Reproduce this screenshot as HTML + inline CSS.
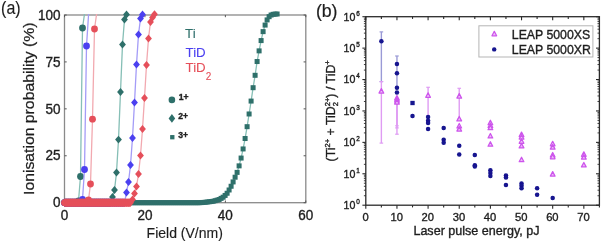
<!DOCTYPE html>
<html><head><meta charset="utf-8"><style>
html,body{margin:0;padding:0;background:#fff;}
svg{display:block;}
text{font-family:"Liberation Sans", sans-serif;stroke:#1e1e1e;stroke-width:0.35px;}
</style></head><body>
<svg width="602" height="242" viewBox="0 0 602 242">
<defs><filter id="bl" x="-5%" y="-5%" width="110%" height="110%"><feGaussianBlur stdDeviation="0.4"/></filter><clipPath id="clipA"><rect x="55" y="8" width="260" height="202"/></clipPath></defs>
<rect width="602" height="242" fill="#fff"/>
<g filter="url(#bl)">
<g fill="#1e1e1e"><rect x="64.5" y="15.0" width="241.30" height="187.70" fill="none" stroke="#8a8a8a" stroke-width="1.3"/><line x1="64.5" y1="202.70" x2="66.70" y2="202.70" stroke="#555" stroke-width="1"/><line x1="305.8" y1="202.70" x2="303.60" y2="202.70" stroke="#555" stroke-width="1"/><text transform="translate(60.6 207.40) scale(1 1.07)" text-anchor="end" font-size="13.5">0</text><line x1="64.5" y1="155.77" x2="66.70" y2="155.77" stroke="#555" stroke-width="1"/><line x1="305.8" y1="155.77" x2="303.60" y2="155.77" stroke="#555" stroke-width="1"/><text transform="translate(60.6 160.47) scale(1 1.07)" text-anchor="end" font-size="13.5">25</text><line x1="64.5" y1="108.85" x2="66.70" y2="108.85" stroke="#555" stroke-width="1"/><line x1="305.8" y1="108.85" x2="303.60" y2="108.85" stroke="#555" stroke-width="1"/><text transform="translate(60.6 113.55) scale(1 1.07)" text-anchor="end" font-size="13.5">50</text><line x1="64.5" y1="61.92" x2="66.70" y2="61.92" stroke="#555" stroke-width="1"/><line x1="305.8" y1="61.92" x2="303.60" y2="61.92" stroke="#555" stroke-width="1"/><text transform="translate(60.6 66.62) scale(1 1.07)" text-anchor="end" font-size="13.5">75</text><line x1="64.5" y1="15.00" x2="66.70" y2="15.00" stroke="#555" stroke-width="1"/><line x1="305.8" y1="15.00" x2="303.60" y2="15.00" stroke="#555" stroke-width="1"/><text transform="translate(60.6 19.70) scale(1 1.07)" text-anchor="end" font-size="13.5">100</text><line x1="64.50" y1="202.7" x2="64.50" y2="200.50" stroke="#555" stroke-width="1"/><line x1="64.50" y1="15.0" x2="64.50" y2="17.20" stroke="#555" stroke-width="1"/><text transform="translate(64.50 219.7) scale(1 1.07)" text-anchor="middle" font-size="13.5">0</text><line x1="144.93" y1="202.7" x2="144.93" y2="200.50" stroke="#555" stroke-width="1"/><line x1="144.93" y1="15.0" x2="144.93" y2="17.20" stroke="#555" stroke-width="1"/><text transform="translate(144.93 219.7) scale(1 1.07)" text-anchor="middle" font-size="13.5">20</text><line x1="225.37" y1="202.7" x2="225.37" y2="200.50" stroke="#555" stroke-width="1"/><line x1="225.37" y1="15.0" x2="225.37" y2="17.20" stroke="#555" stroke-width="1"/><text transform="translate(225.37 219.7) scale(1 1.07)" text-anchor="middle" font-size="13.5">40</text><line x1="305.80" y1="202.7" x2="305.80" y2="200.50" stroke="#555" stroke-width="1"/><line x1="305.80" y1="15.0" x2="305.80" y2="17.20" stroke="#555" stroke-width="1"/><text transform="translate(305.80 219.7) scale(1 1.07)" text-anchor="middle" font-size="13.5">60</text></g>
<g clip-path="url(#clipA)"><path d="M65.10 202.70 L67.10 202.70 L69.10 202.70 L71.10 202.70 L73.10 202.70 L75.10 202.70 L77.10 202.70 L79.10 202.70 L81.10 202.70 L83.10 202.70 L85.10 202.70 L87.10 202.70 L89.10 202.70 L91.10 202.70 L93.10 202.70 L95.10 202.70 L97.10 202.70 L99.10 202.70 L101.10 202.70 L103.10 202.70 L105.10 202.70 L107.10 202.70 L109.10 202.70 L111.10 202.70 L113.10 202.70 L115.10 202.70 L117.10 202.70 L119.10 202.70 L121.10 202.70 L123.10 202.70 L125.10 202.70 L127.10 202.70 L129.10 202.70 L131.10 202.70 L133.10 202.70 L135.10 202.70 L137.10 202.70 L139.10 202.70 L141.10 202.70 L143.10 202.70 L145.10 202.70 L147.10 202.70 L149.10 202.70 L151.10 202.70 L153.10 202.70 L155.10 202.70 L157.10 202.70 L159.10 202.70 L161.10 202.70 L163.10 202.70 L165.10 202.70 L167.10 202.70 L169.10 202.70 L171.10 202.70 L173.10 202.70 L175.10 202.70 L177.10 202.70 L179.10 202.70 L181.10 202.70 L183.10 202.70 L185.10 202.70 L187.10 202.70 L189.10 202.70 L191.10 202.70 L193.10 202.70 L195.10 202.70 L197.10 202.70 L199.10 202.70 L201.10 202.61 L203.10 202.45 L205.10 202.29 L207.10 202.04 L209.10 201.79 L211.10 201.54 L213.10 201.27 L215.10 200.71 L217.10 200.14 L219.10 199.54 L221.10 198.39 L223.10 197.21 L225.10 195.44 L227.10 193.25 L229.10 189.99 L231.10 186.26 L233.10 181.93 L235.10 177.21 L237.10 172.40 L239.10 165.85 L241.10 158.06 L243.10 148.94 L245.10 138.51 L247.10 126.68 L249.10 113.98 L251.10 101.07 L253.10 87.69 L255.10 75.31 L257.10 61.53 L259.10 50.87 L261.10 40.57 L263.10 31.63 L265.10 25.07 L267.10 19.92 L269.10 16.68 L271.10 15.04 L273.10 14.32 L275.10 14.10 L277.10 14.00" fill="none" stroke="#86bfb6" stroke-width="1.3"/><rect x="62.60" y="200.20" width="5.0" height="5.0" fill="#2f6f6b"/><rect x="64.60" y="200.20" width="5.0" height="5.0" fill="#2f6f6b"/><rect x="66.60" y="200.20" width="5.0" height="5.0" fill="#2f6f6b"/><rect x="68.60" y="200.20" width="5.0" height="5.0" fill="#2f6f6b"/><rect x="70.60" y="200.20" width="5.0" height="5.0" fill="#2f6f6b"/><rect x="72.60" y="200.20" width="5.0" height="5.0" fill="#2f6f6b"/><rect x="74.60" y="200.20" width="5.0" height="5.0" fill="#2f6f6b"/><rect x="76.60" y="200.20" width="5.0" height="5.0" fill="#2f6f6b"/><rect x="78.60" y="200.20" width="5.0" height="5.0" fill="#2f6f6b"/><rect x="80.60" y="200.20" width="5.0" height="5.0" fill="#2f6f6b"/><rect x="82.60" y="200.20" width="5.0" height="5.0" fill="#2f6f6b"/><rect x="84.60" y="200.20" width="5.0" height="5.0" fill="#2f6f6b"/><rect x="86.60" y="200.20" width="5.0" height="5.0" fill="#2f6f6b"/><rect x="88.60" y="200.20" width="5.0" height="5.0" fill="#2f6f6b"/><rect x="90.60" y="200.20" width="5.0" height="5.0" fill="#2f6f6b"/><rect x="92.60" y="200.20" width="5.0" height="5.0" fill="#2f6f6b"/><rect x="94.60" y="200.20" width="5.0" height="5.0" fill="#2f6f6b"/><rect x="96.60" y="200.20" width="5.0" height="5.0" fill="#2f6f6b"/><rect x="98.60" y="200.20" width="5.0" height="5.0" fill="#2f6f6b"/><rect x="100.60" y="200.20" width="5.0" height="5.0" fill="#2f6f6b"/><rect x="102.60" y="200.20" width="5.0" height="5.0" fill="#2f6f6b"/><rect x="104.60" y="200.20" width="5.0" height="5.0" fill="#2f6f6b"/><rect x="106.60" y="200.20" width="5.0" height="5.0" fill="#2f6f6b"/><rect x="108.60" y="200.20" width="5.0" height="5.0" fill="#2f6f6b"/><rect x="110.60" y="200.20" width="5.0" height="5.0" fill="#2f6f6b"/><rect x="112.60" y="200.20" width="5.0" height="5.0" fill="#2f6f6b"/><rect x="114.60" y="200.20" width="5.0" height="5.0" fill="#2f6f6b"/><rect x="116.60" y="200.20" width="5.0" height="5.0" fill="#2f6f6b"/><rect x="118.60" y="200.20" width="5.0" height="5.0" fill="#2f6f6b"/><rect x="120.60" y="200.20" width="5.0" height="5.0" fill="#2f6f6b"/><rect x="122.60" y="200.20" width="5.0" height="5.0" fill="#2f6f6b"/><rect x="124.60" y="200.20" width="5.0" height="5.0" fill="#2f6f6b"/><rect x="126.60" y="200.20" width="5.0" height="5.0" fill="#2f6f6b"/><rect x="128.60" y="200.20" width="5.0" height="5.0" fill="#2f6f6b"/><rect x="130.60" y="200.20" width="5.0" height="5.0" fill="#2f6f6b"/><rect x="132.60" y="200.20" width="5.0" height="5.0" fill="#2f6f6b"/><rect x="134.60" y="200.20" width="5.0" height="5.0" fill="#2f6f6b"/><rect x="136.60" y="200.20" width="5.0" height="5.0" fill="#2f6f6b"/><rect x="138.60" y="200.20" width="5.0" height="5.0" fill="#2f6f6b"/><rect x="140.60" y="200.20" width="5.0" height="5.0" fill="#2f6f6b"/><rect x="142.60" y="200.20" width="5.0" height="5.0" fill="#2f6f6b"/><rect x="144.60" y="200.20" width="5.0" height="5.0" fill="#2f6f6b"/><rect x="146.60" y="200.20" width="5.0" height="5.0" fill="#2f6f6b"/><rect x="148.60" y="200.20" width="5.0" height="5.0" fill="#2f6f6b"/><rect x="150.60" y="200.20" width="5.0" height="5.0" fill="#2f6f6b"/><rect x="152.60" y="200.20" width="5.0" height="5.0" fill="#2f6f6b"/><rect x="154.60" y="200.20" width="5.0" height="5.0" fill="#2f6f6b"/><rect x="156.60" y="200.20" width="5.0" height="5.0" fill="#2f6f6b"/><rect x="158.60" y="200.20" width="5.0" height="5.0" fill="#2f6f6b"/><rect x="160.60" y="200.20" width="5.0" height="5.0" fill="#2f6f6b"/><rect x="162.60" y="200.20" width="5.0" height="5.0" fill="#2f6f6b"/><rect x="164.60" y="200.20" width="5.0" height="5.0" fill="#2f6f6b"/><rect x="166.60" y="200.20" width="5.0" height="5.0" fill="#2f6f6b"/><rect x="168.60" y="200.20" width="5.0" height="5.0" fill="#2f6f6b"/><rect x="170.60" y="200.20" width="5.0" height="5.0" fill="#2f6f6b"/><rect x="172.60" y="200.20" width="5.0" height="5.0" fill="#2f6f6b"/><rect x="174.60" y="200.20" width="5.0" height="5.0" fill="#2f6f6b"/><rect x="176.60" y="200.20" width="5.0" height="5.0" fill="#2f6f6b"/><rect x="178.60" y="200.20" width="5.0" height="5.0" fill="#2f6f6b"/><rect x="180.60" y="200.20" width="5.0" height="5.0" fill="#2f6f6b"/><rect x="182.60" y="200.20" width="5.0" height="5.0" fill="#2f6f6b"/><rect x="184.60" y="200.20" width="5.0" height="5.0" fill="#2f6f6b"/><rect x="186.60" y="200.20" width="5.0" height="5.0" fill="#2f6f6b"/><rect x="188.60" y="200.20" width="5.0" height="5.0" fill="#2f6f6b"/><rect x="190.60" y="200.20" width="5.0" height="5.0" fill="#2f6f6b"/><rect x="192.60" y="200.20" width="5.0" height="5.0" fill="#2f6f6b"/><rect x="194.60" y="200.20" width="5.0" height="5.0" fill="#2f6f6b"/><rect x="196.60" y="200.20" width="5.0" height="5.0" fill="#2f6f6b"/><rect x="198.60" y="200.11" width="5.0" height="5.0" fill="#2f6f6b"/><rect x="200.60" y="199.95" width="5.0" height="5.0" fill="#2f6f6b"/><rect x="202.60" y="199.79" width="5.0" height="5.0" fill="#2f6f6b"/><rect x="204.60" y="199.54" width="5.0" height="5.0" fill="#2f6f6b"/><rect x="206.60" y="199.29" width="5.0" height="5.0" fill="#2f6f6b"/><rect x="208.60" y="199.04" width="5.0" height="5.0" fill="#2f6f6b"/><rect x="210.60" y="198.77" width="5.0" height="5.0" fill="#2f6f6b"/><rect x="212.60" y="198.21" width="5.0" height="5.0" fill="#2f6f6b"/><rect x="214.60" y="197.64" width="5.0" height="5.0" fill="#2f6f6b"/><rect x="216.60" y="197.04" width="5.0" height="5.0" fill="#2f6f6b"/><rect x="218.60" y="195.89" width="5.0" height="5.0" fill="#2f6f6b"/><rect x="220.60" y="194.71" width="5.0" height="5.0" fill="#2f6f6b"/><rect x="222.60" y="192.94" width="5.0" height="5.0" fill="#2f6f6b"/><rect x="224.60" y="190.75" width="5.0" height="5.0" fill="#2f6f6b"/><rect x="226.60" y="187.49" width="5.0" height="5.0" fill="#2f6f6b"/><rect x="228.60" y="183.76" width="5.0" height="5.0" fill="#2f6f6b"/><rect x="230.60" y="179.43" width="5.0" height="5.0" fill="#2f6f6b"/><rect x="232.60" y="174.71" width="5.0" height="5.0" fill="#2f6f6b"/><rect x="234.60" y="169.90" width="5.0" height="5.0" fill="#2f6f6b"/><rect x="236.60" y="163.35" width="5.0" height="5.0" fill="#2f6f6b"/><rect x="238.60" y="155.56" width="5.0" height="5.0" fill="#2f6f6b"/><rect x="240.60" y="146.44" width="5.0" height="5.0" fill="#2f6f6b"/><rect x="242.60" y="136.01" width="5.0" height="5.0" fill="#2f6f6b"/><rect x="244.60" y="124.18" width="5.0" height="5.0" fill="#2f6f6b"/><rect x="246.60" y="111.48" width="5.0" height="5.0" fill="#2f6f6b"/><rect x="248.60" y="98.57" width="5.0" height="5.0" fill="#2f6f6b"/><rect x="250.60" y="85.19" width="5.0" height="5.0" fill="#2f6f6b"/><rect x="252.60" y="72.81" width="5.0" height="5.0" fill="#2f6f6b"/><rect x="254.60" y="59.03" width="5.0" height="5.0" fill="#2f6f6b"/><rect x="256.60" y="48.37" width="5.0" height="5.0" fill="#2f6f6b"/><rect x="258.60" y="38.07" width="5.0" height="5.0" fill="#2f6f6b"/><rect x="260.60" y="29.13" width="5.0" height="5.0" fill="#2f6f6b"/><rect x="262.60" y="22.57" width="5.0" height="5.0" fill="#2f6f6b"/><rect x="264.60" y="17.42" width="5.0" height="5.0" fill="#2f6f6b"/><rect x="266.60" y="14.18" width="5.0" height="5.0" fill="#2f6f6b"/><rect x="268.60" y="12.54" width="5.0" height="5.0" fill="#2f6f6b"/><rect x="270.60" y="11.82" width="5.0" height="5.0" fill="#2f6f6b"/><rect x="272.60" y="11.60" width="5.0" height="5.0" fill="#2f6f6b"/><rect x="274.60" y="11.50" width="5.0" height="5.0" fill="#2f6f6b"/><path d="M64.50 202.70 L66.50 202.70 L68.50 202.70 L70.50 202.70 L72.50 202.70 L74.50 202.70 L76.50 202.70 L78.50 201.00 L80.50 176.50 L82.50 28.00 L84.50 14.00" fill="none" stroke="#86bfb6" stroke-width="1.3"/><rect x="64.50" y="199.30" width="12.00" height="6.8" fill="#2f6f6b"/><circle cx="64.50" cy="202.70" r="3.4" fill="#2f6f6b"/><circle cx="66.50" cy="202.70" r="3.4" fill="#2f6f6b"/><circle cx="68.50" cy="202.70" r="3.4" fill="#2f6f6b"/><circle cx="70.50" cy="202.70" r="3.4" fill="#2f6f6b"/><circle cx="72.50" cy="202.70" r="3.4" fill="#2f6f6b"/><circle cx="74.50" cy="202.70" r="3.4" fill="#2f6f6b"/><circle cx="76.50" cy="202.70" r="3.4" fill="#2f6f6b"/><circle cx="78.50" cy="201.00" r="3.4" fill="#2f6f6b"/><circle cx="80.50" cy="176.50" r="3.4" fill="#2f6f6b"/><circle cx="82.50" cy="28.00" r="3.4" fill="#2f6f6b"/><path d="M64.50 202.70 L66.50 202.70 L68.50 202.70 L70.50 202.70 L72.50 202.70 L74.50 202.70 L76.50 202.70 L78.50 202.70 L80.50 202.70 L82.50 202.70 L84.50 202.70 L86.50 202.70 L88.50 202.70 L90.50 202.70 L92.50 202.70 L94.50 202.70 L96.50 202.70 L98.50 202.70 L100.50 202.70 L102.50 202.70 L104.50 202.70 L106.50 202.70 L108.50 202.70 L110.50 202.70 L112.50 197.00 L114.50 190.00 L116.50 172.50 L118.50 139.60 L120.50 92.00 L122.50 44.50 L124.50 19.50 L126.50 14.50" fill="none" stroke="#86bfb6" stroke-width="1.3"/><rect x="64.50" y="198.75" width="46.00" height="7.9" fill="#2f6f6b"/><path d="M64.50 198.75L67.90 202.70L64.50 206.65L61.10 202.70Z" fill="#2f6f6b"/><path d="M66.50 198.75L69.90 202.70L66.50 206.65L63.10 202.70Z" fill="#2f6f6b"/><path d="M68.50 198.75L71.90 202.70L68.50 206.65L65.10 202.70Z" fill="#2f6f6b"/><path d="M70.50 198.75L73.90 202.70L70.50 206.65L67.10 202.70Z" fill="#2f6f6b"/><path d="M72.50 198.75L75.90 202.70L72.50 206.65L69.10 202.70Z" fill="#2f6f6b"/><path d="M74.50 198.75L77.90 202.70L74.50 206.65L71.10 202.70Z" fill="#2f6f6b"/><path d="M76.50 198.75L79.90 202.70L76.50 206.65L73.10 202.70Z" fill="#2f6f6b"/><path d="M78.50 198.75L81.90 202.70L78.50 206.65L75.10 202.70Z" fill="#2f6f6b"/><path d="M80.50 198.75L83.90 202.70L80.50 206.65L77.10 202.70Z" fill="#2f6f6b"/><path d="M82.50 198.75L85.90 202.70L82.50 206.65L79.10 202.70Z" fill="#2f6f6b"/><path d="M84.50 198.75L87.90 202.70L84.50 206.65L81.10 202.70Z" fill="#2f6f6b"/><path d="M86.50 198.75L89.90 202.70L86.50 206.65L83.10 202.70Z" fill="#2f6f6b"/><path d="M88.50 198.75L91.90 202.70L88.50 206.65L85.10 202.70Z" fill="#2f6f6b"/><path d="M90.50 198.75L93.90 202.70L90.50 206.65L87.10 202.70Z" fill="#2f6f6b"/><path d="M92.50 198.75L95.90 202.70L92.50 206.65L89.10 202.70Z" fill="#2f6f6b"/><path d="M94.50 198.75L97.90 202.70L94.50 206.65L91.10 202.70Z" fill="#2f6f6b"/><path d="M96.50 198.75L99.90 202.70L96.50 206.65L93.10 202.70Z" fill="#2f6f6b"/><path d="M98.50 198.75L101.90 202.70L98.50 206.65L95.10 202.70Z" fill="#2f6f6b"/><path d="M100.50 198.75L103.90 202.70L100.50 206.65L97.10 202.70Z" fill="#2f6f6b"/><path d="M102.50 198.75L105.90 202.70L102.50 206.65L99.10 202.70Z" fill="#2f6f6b"/><path d="M104.50 198.75L107.90 202.70L104.50 206.65L101.10 202.70Z" fill="#2f6f6b"/><path d="M106.50 198.75L109.90 202.70L106.50 206.65L103.10 202.70Z" fill="#2f6f6b"/><path d="M108.50 198.75L111.90 202.70L108.50 206.65L105.10 202.70Z" fill="#2f6f6b"/><path d="M110.50 198.75L113.90 202.70L110.50 206.65L107.10 202.70Z" fill="#2f6f6b"/><path d="M112.50 193.05L115.90 197.00L112.50 200.95L109.10 197.00Z" fill="#2f6f6b"/><path d="M114.50 186.05L117.90 190.00L114.50 193.95L111.10 190.00Z" fill="#2f6f6b"/><path d="M116.50 168.55L119.90 172.50L116.50 176.45L113.10 172.50Z" fill="#2f6f6b"/><path d="M118.50 135.65L121.90 139.60L118.50 143.55L115.10 139.60Z" fill="#2f6f6b"/><path d="M120.50 88.05L123.90 92.00L120.50 95.95L117.10 92.00Z" fill="#2f6f6b"/><path d="M122.50 40.55L125.90 44.50L122.50 48.45L119.10 44.50Z" fill="#2f6f6b"/><path d="M124.50 15.55L127.90 19.50L124.50 23.45L121.10 19.50Z" fill="#2f6f6b"/><path d="M126.50 10.55L129.90 14.50L126.50 18.45L123.10 14.50Z" fill="#2f6f6b"/><path d="M64.50 202.70 L66.50 202.70 L68.50 202.70 L70.50 202.70 L72.50 202.70 L74.50 202.70 L76.50 202.70 L78.50 202.70 L80.50 202.70 L82.50 199.50 L84.50 169.50 L86.50 46.00 L88.60 14.00" fill="none" stroke="#a49cf7" stroke-width="1.3"/><rect x="64.50" y="199.30" width="16.00" height="6.8" fill="#4b3ff0"/><circle cx="64.50" cy="202.70" r="3.4" fill="#4b3ff0"/><circle cx="66.50" cy="202.70" r="3.4" fill="#4b3ff0"/><circle cx="68.50" cy="202.70" r="3.4" fill="#4b3ff0"/><circle cx="70.50" cy="202.70" r="3.4" fill="#4b3ff0"/><circle cx="72.50" cy="202.70" r="3.4" fill="#4b3ff0"/><circle cx="74.50" cy="202.70" r="3.4" fill="#4b3ff0"/><circle cx="76.50" cy="202.70" r="3.4" fill="#4b3ff0"/><circle cx="78.50" cy="202.70" r="3.4" fill="#4b3ff0"/><circle cx="80.50" cy="202.70" r="3.4" fill="#4b3ff0"/><circle cx="82.50" cy="199.50" r="3.4" fill="#4b3ff0"/><circle cx="84.50" cy="169.50" r="3.4" fill="#4b3ff0"/><circle cx="86.50" cy="46.00" r="3.4" fill="#4b3ff0"/><path d="M64.50 202.70 L66.50 202.70 L68.50 202.70 L70.50 202.70 L72.50 202.70 L74.50 202.70 L76.50 202.70 L78.50 202.70 L80.50 202.70 L82.50 202.70 L84.50 202.70 L86.50 202.70 L88.50 202.70 L90.50 202.70 L92.50 202.70 L94.50 202.70 L96.50 202.70 L98.50 202.70 L100.50 202.70 L102.50 202.70 L104.50 202.70 L106.50 202.70 L108.50 202.70 L110.50 202.70 L112.50 202.70 L114.50 202.70 L116.50 202.70 L118.50 202.70 L120.50 202.70 L122.50 202.70 L124.50 202.70 L126.50 192.50 L128.50 182.00 L130.50 165.00 L132.50 138.00 L134.50 102.50 L136.50 64.50 L138.50 34.50 L140.50 18.50 L142.50 14.50" fill="none" stroke="#a49cf7" stroke-width="1.3"/><rect x="64.50" y="198.75" width="60.00" height="7.9" fill="#4b3ff0"/><path d="M64.50 198.75L67.90 202.70L64.50 206.65L61.10 202.70Z" fill="#4b3ff0"/><path d="M66.50 198.75L69.90 202.70L66.50 206.65L63.10 202.70Z" fill="#4b3ff0"/><path d="M68.50 198.75L71.90 202.70L68.50 206.65L65.10 202.70Z" fill="#4b3ff0"/><path d="M70.50 198.75L73.90 202.70L70.50 206.65L67.10 202.70Z" fill="#4b3ff0"/><path d="M72.50 198.75L75.90 202.70L72.50 206.65L69.10 202.70Z" fill="#4b3ff0"/><path d="M74.50 198.75L77.90 202.70L74.50 206.65L71.10 202.70Z" fill="#4b3ff0"/><path d="M76.50 198.75L79.90 202.70L76.50 206.65L73.10 202.70Z" fill="#4b3ff0"/><path d="M78.50 198.75L81.90 202.70L78.50 206.65L75.10 202.70Z" fill="#4b3ff0"/><path d="M80.50 198.75L83.90 202.70L80.50 206.65L77.10 202.70Z" fill="#4b3ff0"/><path d="M82.50 198.75L85.90 202.70L82.50 206.65L79.10 202.70Z" fill="#4b3ff0"/><path d="M84.50 198.75L87.90 202.70L84.50 206.65L81.10 202.70Z" fill="#4b3ff0"/><path d="M86.50 198.75L89.90 202.70L86.50 206.65L83.10 202.70Z" fill="#4b3ff0"/><path d="M88.50 198.75L91.90 202.70L88.50 206.65L85.10 202.70Z" fill="#4b3ff0"/><path d="M90.50 198.75L93.90 202.70L90.50 206.65L87.10 202.70Z" fill="#4b3ff0"/><path d="M92.50 198.75L95.90 202.70L92.50 206.65L89.10 202.70Z" fill="#4b3ff0"/><path d="M94.50 198.75L97.90 202.70L94.50 206.65L91.10 202.70Z" fill="#4b3ff0"/><path d="M96.50 198.75L99.90 202.70L96.50 206.65L93.10 202.70Z" fill="#4b3ff0"/><path d="M98.50 198.75L101.90 202.70L98.50 206.65L95.10 202.70Z" fill="#4b3ff0"/><path d="M100.50 198.75L103.90 202.70L100.50 206.65L97.10 202.70Z" fill="#4b3ff0"/><path d="M102.50 198.75L105.90 202.70L102.50 206.65L99.10 202.70Z" fill="#4b3ff0"/><path d="M104.50 198.75L107.90 202.70L104.50 206.65L101.10 202.70Z" fill="#4b3ff0"/><path d="M106.50 198.75L109.90 202.70L106.50 206.65L103.10 202.70Z" fill="#4b3ff0"/><path d="M108.50 198.75L111.90 202.70L108.50 206.65L105.10 202.70Z" fill="#4b3ff0"/><path d="M110.50 198.75L113.90 202.70L110.50 206.65L107.10 202.70Z" fill="#4b3ff0"/><path d="M112.50 198.75L115.90 202.70L112.50 206.65L109.10 202.70Z" fill="#4b3ff0"/><path d="M114.50 198.75L117.90 202.70L114.50 206.65L111.10 202.70Z" fill="#4b3ff0"/><path d="M116.50 198.75L119.90 202.70L116.50 206.65L113.10 202.70Z" fill="#4b3ff0"/><path d="M118.50 198.75L121.90 202.70L118.50 206.65L115.10 202.70Z" fill="#4b3ff0"/><path d="M120.50 198.75L123.90 202.70L120.50 206.65L117.10 202.70Z" fill="#4b3ff0"/><path d="M122.50 198.75L125.90 202.70L122.50 206.65L119.10 202.70Z" fill="#4b3ff0"/><path d="M124.50 198.75L127.90 202.70L124.50 206.65L121.10 202.70Z" fill="#4b3ff0"/><path d="M126.50 188.55L129.90 192.50L126.50 196.45L123.10 192.50Z" fill="#4b3ff0"/><path d="M128.50 178.05L131.90 182.00L128.50 185.95L125.10 182.00Z" fill="#4b3ff0"/><path d="M130.50 161.05L133.90 165.00L130.50 168.95L127.10 165.00Z" fill="#4b3ff0"/><path d="M132.50 134.05L135.90 138.00L132.50 141.95L129.10 138.00Z" fill="#4b3ff0"/><path d="M134.50 98.55L137.90 102.50L134.50 106.45L131.10 102.50Z" fill="#4b3ff0"/><path d="M136.50 60.55L139.90 64.50L136.50 68.45L133.10 64.50Z" fill="#4b3ff0"/><path d="M138.50 30.55L141.90 34.50L138.50 38.45L135.10 34.50Z" fill="#4b3ff0"/><path d="M140.50 14.55L143.90 18.50L140.50 22.45L137.10 18.50Z" fill="#4b3ff0"/><path d="M142.50 10.55L145.90 14.50L142.50 18.45L139.10 14.50Z" fill="#4b3ff0"/><path d="M64.50 202.70 L66.50 202.70 L68.50 202.70 L70.50 202.70 L72.50 202.70 L74.50 202.70 L76.50 202.70 L78.50 202.70 L80.50 202.70 L82.50 202.70 L84.50 202.70 L86.50 202.70 L88.50 200.00 L90.50 184.00 L92.50 119.20 L94.50 29.00 L96.60 14.00" fill="none" stroke="#f2a9b0" stroke-width="1.3"/><rect x="64.50" y="199.30" width="22.00" height="6.8" fill="#e5505a"/><circle cx="64.50" cy="202.70" r="3.4" fill="#e5505a"/><circle cx="66.50" cy="202.70" r="3.4" fill="#e5505a"/><circle cx="68.50" cy="202.70" r="3.4" fill="#e5505a"/><circle cx="70.50" cy="202.70" r="3.4" fill="#e5505a"/><circle cx="72.50" cy="202.70" r="3.4" fill="#e5505a"/><circle cx="74.50" cy="202.70" r="3.4" fill="#e5505a"/><circle cx="76.50" cy="202.70" r="3.4" fill="#e5505a"/><circle cx="78.50" cy="202.70" r="3.4" fill="#e5505a"/><circle cx="80.50" cy="202.70" r="3.4" fill="#e5505a"/><circle cx="82.50" cy="202.70" r="3.4" fill="#e5505a"/><circle cx="84.50" cy="202.70" r="3.4" fill="#e5505a"/><circle cx="86.50" cy="202.70" r="3.4" fill="#e5505a"/><circle cx="88.50" cy="200.00" r="3.4" fill="#e5505a"/><circle cx="90.50" cy="184.00" r="3.4" fill="#e5505a"/><circle cx="92.50" cy="119.20" r="3.4" fill="#e5505a"/><circle cx="94.50" cy="29.00" r="3.4" fill="#e5505a"/><path d="M64.50 202.70 L66.50 202.70 L68.50 202.70 L70.50 202.70 L72.50 202.70 L74.50 202.70 L76.50 202.70 L78.50 202.70 L80.50 202.70 L82.50 202.70 L84.50 202.70 L86.50 202.70 L88.50 202.70 L90.50 202.70 L92.50 202.70 L94.50 202.70 L96.50 202.70 L98.50 202.70 L100.50 202.70 L102.50 202.70 L104.50 202.70 L106.50 202.70 L108.50 202.70 L110.50 202.70 L112.50 202.70 L114.50 202.70 L116.50 202.70 L118.50 202.70 L120.50 202.70 L122.50 202.70 L124.50 202.70 L126.50 202.70 L128.50 202.70 L130.50 202.70 L132.50 199.50 L134.50 193.50 L136.50 186.50 L138.50 174.00 L140.50 155.50 L142.50 129.00 L144.50 98.00 L146.50 65.00 L148.50 38.50 L150.50 22.00 L152.50 17.50 L154.50 14.30" fill="none" stroke="#f2a9b0" stroke-width="1.3"/><rect x="64.50" y="198.60" width="66.00" height="8.200000000000001" fill="#e5505a"/><path d="M64.50 198.75L67.90 202.70L64.50 206.65L61.10 202.70Z" fill="#e5505a"/><path d="M66.50 198.75L69.90 202.70L66.50 206.65L63.10 202.70Z" fill="#e5505a"/><path d="M68.50 198.75L71.90 202.70L68.50 206.65L65.10 202.70Z" fill="#e5505a"/><path d="M70.50 198.75L73.90 202.70L70.50 206.65L67.10 202.70Z" fill="#e5505a"/><path d="M72.50 198.75L75.90 202.70L72.50 206.65L69.10 202.70Z" fill="#e5505a"/><path d="M74.50 198.75L77.90 202.70L74.50 206.65L71.10 202.70Z" fill="#e5505a"/><path d="M76.50 198.75L79.90 202.70L76.50 206.65L73.10 202.70Z" fill="#e5505a"/><path d="M78.50 198.75L81.90 202.70L78.50 206.65L75.10 202.70Z" fill="#e5505a"/><path d="M80.50 198.75L83.90 202.70L80.50 206.65L77.10 202.70Z" fill="#e5505a"/><path d="M82.50 198.75L85.90 202.70L82.50 206.65L79.10 202.70Z" fill="#e5505a"/><path d="M84.50 198.75L87.90 202.70L84.50 206.65L81.10 202.70Z" fill="#e5505a"/><path d="M86.50 198.75L89.90 202.70L86.50 206.65L83.10 202.70Z" fill="#e5505a"/><path d="M88.50 198.75L91.90 202.70L88.50 206.65L85.10 202.70Z" fill="#e5505a"/><path d="M90.50 198.75L93.90 202.70L90.50 206.65L87.10 202.70Z" fill="#e5505a"/><path d="M92.50 198.75L95.90 202.70L92.50 206.65L89.10 202.70Z" fill="#e5505a"/><path d="M94.50 198.75L97.90 202.70L94.50 206.65L91.10 202.70Z" fill="#e5505a"/><path d="M96.50 198.75L99.90 202.70L96.50 206.65L93.10 202.70Z" fill="#e5505a"/><path d="M98.50 198.75L101.90 202.70L98.50 206.65L95.10 202.70Z" fill="#e5505a"/><path d="M100.50 198.75L103.90 202.70L100.50 206.65L97.10 202.70Z" fill="#e5505a"/><path d="M102.50 198.75L105.90 202.70L102.50 206.65L99.10 202.70Z" fill="#e5505a"/><path d="M104.50 198.75L107.90 202.70L104.50 206.65L101.10 202.70Z" fill="#e5505a"/><path d="M106.50 198.75L109.90 202.70L106.50 206.65L103.10 202.70Z" fill="#e5505a"/><path d="M108.50 198.75L111.90 202.70L108.50 206.65L105.10 202.70Z" fill="#e5505a"/><path d="M110.50 198.75L113.90 202.70L110.50 206.65L107.10 202.70Z" fill="#e5505a"/><path d="M112.50 198.75L115.90 202.70L112.50 206.65L109.10 202.70Z" fill="#e5505a"/><path d="M114.50 198.75L117.90 202.70L114.50 206.65L111.10 202.70Z" fill="#e5505a"/><path d="M116.50 198.75L119.90 202.70L116.50 206.65L113.10 202.70Z" fill="#e5505a"/><path d="M118.50 198.75L121.90 202.70L118.50 206.65L115.10 202.70Z" fill="#e5505a"/><path d="M120.50 198.75L123.90 202.70L120.50 206.65L117.10 202.70Z" fill="#e5505a"/><path d="M122.50 198.75L125.90 202.70L122.50 206.65L119.10 202.70Z" fill="#e5505a"/><path d="M124.50 198.75L127.90 202.70L124.50 206.65L121.10 202.70Z" fill="#e5505a"/><path d="M126.50 198.75L129.90 202.70L126.50 206.65L123.10 202.70Z" fill="#e5505a"/><path d="M128.50 198.75L131.90 202.70L128.50 206.65L125.10 202.70Z" fill="#e5505a"/><path d="M130.50 198.75L133.90 202.70L130.50 206.65L127.10 202.70Z" fill="#e5505a"/><path d="M132.50 195.55L135.90 199.50L132.50 203.45L129.10 199.50Z" fill="#e5505a"/><path d="M134.50 189.55L137.90 193.50L134.50 197.45L131.10 193.50Z" fill="#e5505a"/><path d="M136.50 182.55L139.90 186.50L136.50 190.45L133.10 186.50Z" fill="#e5505a"/><path d="M138.50 170.05L141.90 174.00L138.50 177.95L135.10 174.00Z" fill="#e5505a"/><path d="M140.50 151.55L143.90 155.50L140.50 159.45L137.10 155.50Z" fill="#e5505a"/><path d="M142.50 125.05L145.90 129.00L142.50 132.95L139.10 129.00Z" fill="#e5505a"/><path d="M144.50 94.05L147.90 98.00L144.50 101.95L141.10 98.00Z" fill="#e5505a"/><path d="M146.50 61.05L149.90 65.00L146.50 68.95L143.10 65.00Z" fill="#e5505a"/><path d="M148.50 34.55L151.90 38.50L148.50 42.45L145.10 38.50Z" fill="#e5505a"/><path d="M150.50 18.05L153.90 22.00L150.50 25.95L147.10 22.00Z" fill="#e5505a"/><path d="M152.50 13.55L155.90 17.50L152.50 21.45L149.10 17.50Z" fill="#e5505a"/><path d="M154.50 10.35L157.90 14.30L154.50 18.25L151.10 14.30Z" fill="#e5505a"/></g>
<g fill="#1e1e1e"><text x="1.1" y="14.4" font-size="17.5" textLength="19.6" lengthAdjust="spacingAndGlyphs" style="stroke-width:0.12px">(a)</text><text transform="translate(34.0 195.0) rotate(-90)" font-size="14" textLength="172.6" lengthAdjust="spacingAndGlyphs" style="stroke-width:0.22px">Ionisation probability (%)</text><text x="146.6" y="238.1" font-size="14" style="stroke-width:0.15px">Field (V/nm)</text><text x="185" y="37.8" font-size="13.3" fill="#2f6f6b" style="stroke-width:0.1px;stroke:#2f6f6b">Ti</text><text x="185.5" y="57.3" font-size="13.3" fill="#4b3ff0" style="stroke-width:0.1px;stroke:#4b3ff0">TiD</text><text x="185.5" y="72.3" font-size="13.3" fill="#e5505a" style="stroke-width:0.1px;stroke:#e5505a">TiD<tspan font-size="10" dy="8">2</tspan></text><circle cx="171.90" cy="99.90" r="3.3" fill="#2f6f6b"/><path d="M171.90 114.10L175.20 118.40L171.90 122.70L168.60 118.40Z" fill="#2f6f6b"/><rect x="170.15" y="135.05" width="4.3" height="4.3" fill="#2f6f6b"/><text x="178.8" y="100" font-size="8.6" font-weight="bold" fill="#222">1+</text><text x="178.2" y="119.3" font-size="8.6" font-weight="bold" fill="#222">2+</text><text x="178.2" y="138" font-size="8.6" font-weight="bold" fill="#222">3+</text></g>
<g fill="#1e1e1e"><rect x="365.8" y="16.7" width="233.60" height="188.50" fill="none" stroke="#2a2a2a" stroke-width="1.3"/><line x1="365.80" y1="205.2" x2="365.80" y2="208.80" stroke="#2a2a2a" stroke-width="1.1"/><line x1="365.80" y1="16.7" x2="365.80" y2="20.30" stroke="#2a2a2a" stroke-width="1.1"/><text x="365.50" y="221.2" text-anchor="middle" font-size="11.2">0</text><line x1="381.37" y1="205.2" x2="381.37" y2="207.40" stroke="#2a2a2a" stroke-width="1.1"/><line x1="381.37" y1="16.7" x2="381.37" y2="18.90" stroke="#2a2a2a" stroke-width="1.1"/><line x1="396.95" y1="205.2" x2="396.95" y2="208.80" stroke="#2a2a2a" stroke-width="1.1"/><line x1="396.95" y1="16.7" x2="396.95" y2="20.30" stroke="#2a2a2a" stroke-width="1.1"/><text x="396.65" y="221.2" text-anchor="middle" font-size="11.2">10</text><line x1="412.52" y1="205.2" x2="412.52" y2="207.40" stroke="#2a2a2a" stroke-width="1.1"/><line x1="412.52" y1="16.7" x2="412.52" y2="18.90" stroke="#2a2a2a" stroke-width="1.1"/><line x1="428.09" y1="205.2" x2="428.09" y2="208.80" stroke="#2a2a2a" stroke-width="1.1"/><line x1="428.09" y1="16.7" x2="428.09" y2="20.30" stroke="#2a2a2a" stroke-width="1.1"/><text x="427.79" y="221.2" text-anchor="middle" font-size="11.2">20</text><line x1="443.67" y1="205.2" x2="443.67" y2="207.40" stroke="#2a2a2a" stroke-width="1.1"/><line x1="443.67" y1="16.7" x2="443.67" y2="18.90" stroke="#2a2a2a" stroke-width="1.1"/><line x1="459.24" y1="205.2" x2="459.24" y2="208.80" stroke="#2a2a2a" stroke-width="1.1"/><line x1="459.24" y1="16.7" x2="459.24" y2="20.30" stroke="#2a2a2a" stroke-width="1.1"/><text x="458.94" y="221.2" text-anchor="middle" font-size="11.2">30</text><line x1="474.81" y1="205.2" x2="474.81" y2="207.40" stroke="#2a2a2a" stroke-width="1.1"/><line x1="474.81" y1="16.7" x2="474.81" y2="18.90" stroke="#2a2a2a" stroke-width="1.1"/><line x1="490.39" y1="205.2" x2="490.39" y2="208.80" stroke="#2a2a2a" stroke-width="1.1"/><line x1="490.39" y1="16.7" x2="490.39" y2="20.30" stroke="#2a2a2a" stroke-width="1.1"/><text x="490.09" y="221.2" text-anchor="middle" font-size="11.2">40</text><line x1="505.96" y1="205.2" x2="505.96" y2="207.40" stroke="#2a2a2a" stroke-width="1.1"/><line x1="505.96" y1="16.7" x2="505.96" y2="18.90" stroke="#2a2a2a" stroke-width="1.1"/><line x1="521.53" y1="205.2" x2="521.53" y2="208.80" stroke="#2a2a2a" stroke-width="1.1"/><line x1="521.53" y1="16.7" x2="521.53" y2="20.30" stroke="#2a2a2a" stroke-width="1.1"/><text x="521.23" y="221.2" text-anchor="middle" font-size="11.2">50</text><line x1="537.11" y1="205.2" x2="537.11" y2="207.40" stroke="#2a2a2a" stroke-width="1.1"/><line x1="537.11" y1="16.7" x2="537.11" y2="18.90" stroke="#2a2a2a" stroke-width="1.1"/><line x1="552.68" y1="205.2" x2="552.68" y2="208.80" stroke="#2a2a2a" stroke-width="1.1"/><line x1="552.68" y1="16.7" x2="552.68" y2="20.30" stroke="#2a2a2a" stroke-width="1.1"/><text x="552.38" y="221.2" text-anchor="middle" font-size="11.2">60</text><line x1="568.25" y1="205.2" x2="568.25" y2="207.40" stroke="#2a2a2a" stroke-width="1.1"/><line x1="568.25" y1="16.7" x2="568.25" y2="18.90" stroke="#2a2a2a" stroke-width="1.1"/><line x1="583.83" y1="205.2" x2="583.83" y2="208.80" stroke="#2a2a2a" stroke-width="1.1"/><line x1="583.83" y1="16.7" x2="583.83" y2="20.30" stroke="#2a2a2a" stroke-width="1.1"/><text x="583.53" y="221.2" text-anchor="middle" font-size="11.2">70</text><line x1="599.40" y1="205.2" x2="599.40" y2="207.40" stroke="#2a2a2a" stroke-width="1.1"/><line x1="599.40" y1="16.7" x2="599.40" y2="18.90" stroke="#2a2a2a" stroke-width="1.1"/><line x1="362.40" y1="205.20" x2="365.8" y2="205.20" stroke="#2a2a2a" stroke-width="1.1"/><line x1="596.00" y1="205.20" x2="599.4" y2="205.20" stroke="#2a2a2a" stroke-width="1.1"/><text x="355.3" y="209.10" text-anchor="end" font-size="10.6">10</text><text x="356.2" y="204.00" font-size="6.4">0</text><line x1="363.90" y1="195.74" x2="365.8" y2="195.74" stroke="#2a2a2a" stroke-width="0.9"/><line x1="597.50" y1="195.74" x2="599.4" y2="195.74" stroke="#2a2a2a" stroke-width="0.9"/><line x1="363.90" y1="190.21" x2="365.8" y2="190.21" stroke="#2a2a2a" stroke-width="0.9"/><line x1="597.50" y1="190.21" x2="599.4" y2="190.21" stroke="#2a2a2a" stroke-width="0.9"/><line x1="363.90" y1="186.29" x2="365.8" y2="186.29" stroke="#2a2a2a" stroke-width="0.9"/><line x1="597.50" y1="186.29" x2="599.4" y2="186.29" stroke="#2a2a2a" stroke-width="0.9"/><line x1="363.90" y1="183.24" x2="365.8" y2="183.24" stroke="#2a2a2a" stroke-width="0.9"/><line x1="597.50" y1="183.24" x2="599.4" y2="183.24" stroke="#2a2a2a" stroke-width="0.9"/><line x1="363.90" y1="180.75" x2="365.8" y2="180.75" stroke="#2a2a2a" stroke-width="0.9"/><line x1="597.50" y1="180.75" x2="599.4" y2="180.75" stroke="#2a2a2a" stroke-width="0.9"/><line x1="363.90" y1="178.65" x2="365.8" y2="178.65" stroke="#2a2a2a" stroke-width="0.9"/><line x1="597.50" y1="178.65" x2="599.4" y2="178.65" stroke="#2a2a2a" stroke-width="0.9"/><line x1="363.90" y1="176.83" x2="365.8" y2="176.83" stroke="#2a2a2a" stroke-width="0.9"/><line x1="597.50" y1="176.83" x2="599.4" y2="176.83" stroke="#2a2a2a" stroke-width="0.9"/><line x1="363.90" y1="175.22" x2="365.8" y2="175.22" stroke="#2a2a2a" stroke-width="0.9"/><line x1="597.50" y1="175.22" x2="599.4" y2="175.22" stroke="#2a2a2a" stroke-width="0.9"/><line x1="362.40" y1="173.78" x2="365.8" y2="173.78" stroke="#2a2a2a" stroke-width="1.1"/><line x1="596.00" y1="173.78" x2="599.4" y2="173.78" stroke="#2a2a2a" stroke-width="1.1"/><text x="355.3" y="177.68" text-anchor="end" font-size="10.6">10</text><text x="356.2" y="172.58" font-size="6.4">1</text><line x1="363.90" y1="164.33" x2="365.8" y2="164.33" stroke="#2a2a2a" stroke-width="0.9"/><line x1="597.50" y1="164.33" x2="599.4" y2="164.33" stroke="#2a2a2a" stroke-width="0.9"/><line x1="363.90" y1="158.79" x2="365.8" y2="158.79" stroke="#2a2a2a" stroke-width="0.9"/><line x1="597.50" y1="158.79" x2="599.4" y2="158.79" stroke="#2a2a2a" stroke-width="0.9"/><line x1="363.90" y1="154.87" x2="365.8" y2="154.87" stroke="#2a2a2a" stroke-width="0.9"/><line x1="597.50" y1="154.87" x2="599.4" y2="154.87" stroke="#2a2a2a" stroke-width="0.9"/><line x1="363.90" y1="151.82" x2="365.8" y2="151.82" stroke="#2a2a2a" stroke-width="0.9"/><line x1="597.50" y1="151.82" x2="599.4" y2="151.82" stroke="#2a2a2a" stroke-width="0.9"/><line x1="363.90" y1="149.34" x2="365.8" y2="149.34" stroke="#2a2a2a" stroke-width="0.9"/><line x1="597.50" y1="149.34" x2="599.4" y2="149.34" stroke="#2a2a2a" stroke-width="0.9"/><line x1="363.90" y1="147.23" x2="365.8" y2="147.23" stroke="#2a2a2a" stroke-width="0.9"/><line x1="597.50" y1="147.23" x2="599.4" y2="147.23" stroke="#2a2a2a" stroke-width="0.9"/><line x1="363.90" y1="145.41" x2="365.8" y2="145.41" stroke="#2a2a2a" stroke-width="0.9"/><line x1="597.50" y1="145.41" x2="599.4" y2="145.41" stroke="#2a2a2a" stroke-width="0.9"/><line x1="363.90" y1="143.80" x2="365.8" y2="143.80" stroke="#2a2a2a" stroke-width="0.9"/><line x1="597.50" y1="143.80" x2="599.4" y2="143.80" stroke="#2a2a2a" stroke-width="0.9"/><line x1="362.40" y1="142.37" x2="365.8" y2="142.37" stroke="#2a2a2a" stroke-width="1.1"/><line x1="596.00" y1="142.37" x2="599.4" y2="142.37" stroke="#2a2a2a" stroke-width="1.1"/><text x="355.3" y="146.27" text-anchor="end" font-size="10.6">10</text><text x="356.2" y="141.17" font-size="6.4">2</text><line x1="363.90" y1="132.91" x2="365.8" y2="132.91" stroke="#2a2a2a" stroke-width="0.9"/><line x1="597.50" y1="132.91" x2="599.4" y2="132.91" stroke="#2a2a2a" stroke-width="0.9"/><line x1="363.90" y1="127.38" x2="365.8" y2="127.38" stroke="#2a2a2a" stroke-width="0.9"/><line x1="597.50" y1="127.38" x2="599.4" y2="127.38" stroke="#2a2a2a" stroke-width="0.9"/><line x1="363.90" y1="123.45" x2="365.8" y2="123.45" stroke="#2a2a2a" stroke-width="0.9"/><line x1="597.50" y1="123.45" x2="599.4" y2="123.45" stroke="#2a2a2a" stroke-width="0.9"/><line x1="363.90" y1="120.41" x2="365.8" y2="120.41" stroke="#2a2a2a" stroke-width="0.9"/><line x1="597.50" y1="120.41" x2="599.4" y2="120.41" stroke="#2a2a2a" stroke-width="0.9"/><line x1="363.90" y1="117.92" x2="365.8" y2="117.92" stroke="#2a2a2a" stroke-width="0.9"/><line x1="597.50" y1="117.92" x2="599.4" y2="117.92" stroke="#2a2a2a" stroke-width="0.9"/><line x1="363.90" y1="115.82" x2="365.8" y2="115.82" stroke="#2a2a2a" stroke-width="0.9"/><line x1="597.50" y1="115.82" x2="599.4" y2="115.82" stroke="#2a2a2a" stroke-width="0.9"/><line x1="363.90" y1="113.99" x2="365.8" y2="113.99" stroke="#2a2a2a" stroke-width="0.9"/><line x1="597.50" y1="113.99" x2="599.4" y2="113.99" stroke="#2a2a2a" stroke-width="0.9"/><line x1="363.90" y1="112.39" x2="365.8" y2="112.39" stroke="#2a2a2a" stroke-width="0.9"/><line x1="597.50" y1="112.39" x2="599.4" y2="112.39" stroke="#2a2a2a" stroke-width="0.9"/><line x1="362.40" y1="110.95" x2="365.8" y2="110.95" stroke="#2a2a2a" stroke-width="1.1"/><line x1="596.00" y1="110.95" x2="599.4" y2="110.95" stroke="#2a2a2a" stroke-width="1.1"/><text x="355.3" y="114.85" text-anchor="end" font-size="10.6">10</text><text x="356.2" y="109.75" font-size="6.4">3</text><line x1="363.90" y1="101.49" x2="365.8" y2="101.49" stroke="#2a2a2a" stroke-width="0.9"/><line x1="597.50" y1="101.49" x2="599.4" y2="101.49" stroke="#2a2a2a" stroke-width="0.9"/><line x1="363.90" y1="95.96" x2="365.8" y2="95.96" stroke="#2a2a2a" stroke-width="0.9"/><line x1="597.50" y1="95.96" x2="599.4" y2="95.96" stroke="#2a2a2a" stroke-width="0.9"/><line x1="363.90" y1="92.04" x2="365.8" y2="92.04" stroke="#2a2a2a" stroke-width="0.9"/><line x1="597.50" y1="92.04" x2="599.4" y2="92.04" stroke="#2a2a2a" stroke-width="0.9"/><line x1="363.90" y1="88.99" x2="365.8" y2="88.99" stroke="#2a2a2a" stroke-width="0.9"/><line x1="597.50" y1="88.99" x2="599.4" y2="88.99" stroke="#2a2a2a" stroke-width="0.9"/><line x1="363.90" y1="86.50" x2="365.8" y2="86.50" stroke="#2a2a2a" stroke-width="0.9"/><line x1="597.50" y1="86.50" x2="599.4" y2="86.50" stroke="#2a2a2a" stroke-width="0.9"/><line x1="363.90" y1="84.40" x2="365.8" y2="84.40" stroke="#2a2a2a" stroke-width="0.9"/><line x1="597.50" y1="84.40" x2="599.4" y2="84.40" stroke="#2a2a2a" stroke-width="0.9"/><line x1="363.90" y1="82.58" x2="365.8" y2="82.58" stroke="#2a2a2a" stroke-width="0.9"/><line x1="597.50" y1="82.58" x2="599.4" y2="82.58" stroke="#2a2a2a" stroke-width="0.9"/><line x1="363.90" y1="80.97" x2="365.8" y2="80.97" stroke="#2a2a2a" stroke-width="0.9"/><line x1="597.50" y1="80.97" x2="599.4" y2="80.97" stroke="#2a2a2a" stroke-width="0.9"/><line x1="362.40" y1="79.53" x2="365.8" y2="79.53" stroke="#2a2a2a" stroke-width="1.1"/><line x1="596.00" y1="79.53" x2="599.4" y2="79.53" stroke="#2a2a2a" stroke-width="1.1"/><text x="355.3" y="83.43" text-anchor="end" font-size="10.6">10</text><text x="356.2" y="78.33" font-size="6.4">4</text><line x1="363.90" y1="70.08" x2="365.8" y2="70.08" stroke="#2a2a2a" stroke-width="0.9"/><line x1="597.50" y1="70.08" x2="599.4" y2="70.08" stroke="#2a2a2a" stroke-width="0.9"/><line x1="363.90" y1="64.54" x2="365.8" y2="64.54" stroke="#2a2a2a" stroke-width="0.9"/><line x1="597.50" y1="64.54" x2="599.4" y2="64.54" stroke="#2a2a2a" stroke-width="0.9"/><line x1="363.90" y1="60.62" x2="365.8" y2="60.62" stroke="#2a2a2a" stroke-width="0.9"/><line x1="597.50" y1="60.62" x2="599.4" y2="60.62" stroke="#2a2a2a" stroke-width="0.9"/><line x1="363.90" y1="57.57" x2="365.8" y2="57.57" stroke="#2a2a2a" stroke-width="0.9"/><line x1="597.50" y1="57.57" x2="599.4" y2="57.57" stroke="#2a2a2a" stroke-width="0.9"/><line x1="363.90" y1="55.09" x2="365.8" y2="55.09" stroke="#2a2a2a" stroke-width="0.9"/><line x1="597.50" y1="55.09" x2="599.4" y2="55.09" stroke="#2a2a2a" stroke-width="0.9"/><line x1="363.90" y1="52.98" x2="365.8" y2="52.98" stroke="#2a2a2a" stroke-width="0.9"/><line x1="597.50" y1="52.98" x2="599.4" y2="52.98" stroke="#2a2a2a" stroke-width="0.9"/><line x1="363.90" y1="51.16" x2="365.8" y2="51.16" stroke="#2a2a2a" stroke-width="0.9"/><line x1="597.50" y1="51.16" x2="599.4" y2="51.16" stroke="#2a2a2a" stroke-width="0.9"/><line x1="363.90" y1="49.55" x2="365.8" y2="49.55" stroke="#2a2a2a" stroke-width="0.9"/><line x1="597.50" y1="49.55" x2="599.4" y2="49.55" stroke="#2a2a2a" stroke-width="0.9"/><line x1="362.40" y1="48.12" x2="365.8" y2="48.12" stroke="#2a2a2a" stroke-width="1.1"/><line x1="596.00" y1="48.12" x2="599.4" y2="48.12" stroke="#2a2a2a" stroke-width="1.1"/><text x="355.3" y="52.02" text-anchor="end" font-size="10.6">10</text><text x="356.2" y="46.92" font-size="6.4">5</text><line x1="363.90" y1="38.66" x2="365.8" y2="38.66" stroke="#2a2a2a" stroke-width="0.9"/><line x1="597.50" y1="38.66" x2="599.4" y2="38.66" stroke="#2a2a2a" stroke-width="0.9"/><line x1="363.90" y1="33.13" x2="365.8" y2="33.13" stroke="#2a2a2a" stroke-width="0.9"/><line x1="597.50" y1="33.13" x2="599.4" y2="33.13" stroke="#2a2a2a" stroke-width="0.9"/><line x1="363.90" y1="29.20" x2="365.8" y2="29.20" stroke="#2a2a2a" stroke-width="0.9"/><line x1="597.50" y1="29.20" x2="599.4" y2="29.20" stroke="#2a2a2a" stroke-width="0.9"/><line x1="363.90" y1="26.16" x2="365.8" y2="26.16" stroke="#2a2a2a" stroke-width="0.9"/><line x1="597.50" y1="26.16" x2="599.4" y2="26.16" stroke="#2a2a2a" stroke-width="0.9"/><line x1="363.90" y1="23.67" x2="365.8" y2="23.67" stroke="#2a2a2a" stroke-width="0.9"/><line x1="597.50" y1="23.67" x2="599.4" y2="23.67" stroke="#2a2a2a" stroke-width="0.9"/><line x1="363.90" y1="21.57" x2="365.8" y2="21.57" stroke="#2a2a2a" stroke-width="0.9"/><line x1="597.50" y1="21.57" x2="599.4" y2="21.57" stroke="#2a2a2a" stroke-width="0.9"/><line x1="363.90" y1="19.74" x2="365.8" y2="19.74" stroke="#2a2a2a" stroke-width="0.9"/><line x1="597.50" y1="19.74" x2="599.4" y2="19.74" stroke="#2a2a2a" stroke-width="0.9"/><line x1="363.90" y1="18.14" x2="365.8" y2="18.14" stroke="#2a2a2a" stroke-width="0.9"/><line x1="597.50" y1="18.14" x2="599.4" y2="18.14" stroke="#2a2a2a" stroke-width="0.9"/><line x1="362.40" y1="16.70" x2="365.8" y2="16.70" stroke="#2a2a2a" stroke-width="1.1"/><line x1="596.00" y1="16.70" x2="599.4" y2="16.70" stroke="#2a2a2a" stroke-width="1.1"/><text x="355.3" y="20.60" text-anchor="end" font-size="10.6">10</text><text x="356.2" y="15.50" font-size="6.4">6</text></g>
<g fill="#1e1e1e"><text x="316.1" y="16.8" font-size="17.8" textLength="21.4" lengthAdjust="spacing" style="stroke-width:0.2px">(b)</text><text x="413.4" y="235.2" font-size="12.8" textLength="126.2" lengthAdjust="spacingAndGlyphs">Laser pulse energy, pJ</text><text transform="translate(334.6 161.5) rotate(-90)" font-size="12.4">(Ti<tspan font-size="7.5" dy="-5">2+</tspan><tspan dy="5"> + TiD</tspan><tspan font-size="7.5" dy="3">2</tspan><tspan font-size="7.5" dx="-4.2" dy="-8">2+</tspan><tspan dy="5">) / TiD</tspan><tspan font-size="7.5" dy="-5">+</tspan></text><rect x="478.9" y="25.8" width="114.0" height="31.2" fill="#fff" stroke="#b5b5b5" stroke-width="1"/><path d="M494.30 31.32L496.65 35.79L491.95 35.79Z" fill="#eebcf8" stroke="#cd55ec" stroke-width="1.25" stroke-linejoin="round"/><circle cx="494.20" cy="49.40" r="2.2" fill="#14128f"/><text x="511.8" y="38.7" font-size="12.3">LEAP 5000XS</text><text x="511.8" y="53.6" font-size="12.3">LEAP 5000XR</text></g>
<line x1="381.37" y1="31.90" x2="381.37" y2="81.60" stroke="#9a9ad6" stroke-width="1.4"/><line x1="379.57" y1="31.90" x2="383.17" y2="31.90" stroke="#9a9ad6" stroke-width="1.2"/><line x1="379.57" y1="81.60" x2="383.17" y2="81.60" stroke="#9a9ad6" stroke-width="1.2"/><line x1="396.95" y1="56.00" x2="396.95" y2="88.00" stroke="#9a9ad6" stroke-width="1.4"/><line x1="395.15" y1="56.00" x2="398.75" y2="56.00" stroke="#9a9ad6" stroke-width="1.2"/><line x1="395.15" y1="88.00" x2="398.75" y2="88.00" stroke="#9a9ad6" stroke-width="1.2"/><line x1="381.37" y1="81.60" x2="381.37" y2="143.10" stroke="#df9cf3" stroke-width="1.4"/><line x1="379.57" y1="81.60" x2="383.17" y2="81.60" stroke="#df9cf3" stroke-width="1.2"/><line x1="379.57" y1="143.10" x2="383.17" y2="143.10" stroke="#df9cf3" stroke-width="1.2"/><line x1="396.95" y1="101.00" x2="396.95" y2="125.80" stroke="#df9cf3" stroke-width="1.4"/><line x1="395.15" y1="101.00" x2="398.75" y2="101.00" stroke="#df9cf3" stroke-width="1.2"/><line x1="395.15" y1="125.80" x2="398.75" y2="125.80" stroke="#df9cf3" stroke-width="1.2"/><line x1="396.95" y1="101.00" x2="396.95" y2="127.90" stroke="#df9cf3" stroke-width="1.4"/><line x1="395.15" y1="101.00" x2="398.75" y2="101.00" stroke="#df9cf3" stroke-width="1.2"/><line x1="395.15" y1="127.90" x2="398.75" y2="127.90" stroke="#df9cf3" stroke-width="1.2"/><line x1="396.95" y1="101.00" x2="396.95" y2="134.20" stroke="#df9cf3" stroke-width="1.4"/><line x1="395.15" y1="101.00" x2="398.75" y2="101.00" stroke="#df9cf3" stroke-width="1.2"/><line x1="395.15" y1="134.20" x2="398.75" y2="134.20" stroke="#df9cf3" stroke-width="1.2"/><line x1="428.09" y1="87.30" x2="428.09" y2="116.00" stroke="#df9cf3" stroke-width="1.4"/><line x1="426.29" y1="87.30" x2="429.89" y2="87.30" stroke="#df9cf3" stroke-width="1.2"/><line x1="426.29" y1="116.00" x2="429.89" y2="116.00" stroke="#df9cf3" stroke-width="1.2"/><line x1="459.24" y1="88.30" x2="459.24" y2="119.00" stroke="#df9cf3" stroke-width="1.4"/><line x1="457.44" y1="88.30" x2="461.04" y2="88.30" stroke="#df9cf3" stroke-width="1.2"/><line x1="457.44" y1="119.00" x2="461.04" y2="119.00" stroke="#df9cf3" stroke-width="1.2"/><path d="M381.37 88.62L383.72 93.09L379.02 93.09Z" fill="#eebcf8" stroke="#cd55ec" stroke-width="1.25" stroke-linejoin="round"/><path d="M396.95 95.62L399.30 100.09L394.60 100.09Z" fill="#eebcf8" stroke="#cd55ec" stroke-width="1.25" stroke-linejoin="round"/><path d="M396.95 97.62L399.30 102.09L394.60 102.09Z" fill="#eebcf8" stroke="#cd55ec" stroke-width="1.25" stroke-linejoin="round"/><path d="M396.95 99.62L399.30 104.09L394.60 104.09Z" fill="#eebcf8" stroke="#cd55ec" stroke-width="1.25" stroke-linejoin="round"/><path d="M428.09 92.82L430.44 97.29L425.74 97.29Z" fill="#eebcf8" stroke="#cd55ec" stroke-width="1.25" stroke-linejoin="round"/><path d="M459.24 93.62L461.59 98.09L456.89 98.09Z" fill="#eebcf8" stroke="#cd55ec" stroke-width="1.25" stroke-linejoin="round"/><path d="M459.24 116.42L461.59 120.89L456.89 120.89Z" fill="#eebcf8" stroke="#cd55ec" stroke-width="1.25" stroke-linejoin="round"/><path d="M459.24 123.52L461.59 127.99L456.89 127.99Z" fill="#eebcf8" stroke="#cd55ec" stroke-width="1.25" stroke-linejoin="round"/><path d="M459.24 126.62L461.59 131.09L456.89 131.09Z" fill="#eebcf8" stroke="#cd55ec" stroke-width="1.25" stroke-linejoin="round"/><path d="M490.39 120.22L492.74 124.69L488.04 124.69Z" fill="#eebcf8" stroke="#cd55ec" stroke-width="1.25" stroke-linejoin="round"/><path d="M490.39 123.02L492.74 127.49L488.04 127.49Z" fill="#eebcf8" stroke="#cd55ec" stroke-width="1.25" stroke-linejoin="round"/><path d="M490.39 125.22L492.74 129.69L488.04 129.69Z" fill="#eebcf8" stroke="#cd55ec" stroke-width="1.25" stroke-linejoin="round"/><path d="M490.39 133.52L492.74 137.99L488.04 137.99Z" fill="#eebcf8" stroke="#cd55ec" stroke-width="1.25" stroke-linejoin="round"/><path d="M490.39 141.72L492.74 146.19L488.04 146.19Z" fill="#eebcf8" stroke="#cd55ec" stroke-width="1.25" stroke-linejoin="round"/><path d="M521.53 132.12L523.88 136.59L519.18 136.59Z" fill="#eebcf8" stroke="#cd55ec" stroke-width="1.25" stroke-linejoin="round"/><path d="M521.53 134.62L523.88 139.09L519.18 139.09Z" fill="#eebcf8" stroke="#cd55ec" stroke-width="1.25" stroke-linejoin="round"/><path d="M521.53 138.82L523.88 143.29L519.18 143.29Z" fill="#eebcf8" stroke="#cd55ec" stroke-width="1.25" stroke-linejoin="round"/><path d="M521.53 143.42L523.88 147.89L519.18 147.89Z" fill="#eebcf8" stroke="#cd55ec" stroke-width="1.25" stroke-linejoin="round"/><path d="M521.53 157.22L523.88 161.69L519.18 161.69Z" fill="#eebcf8" stroke="#cd55ec" stroke-width="1.25" stroke-linejoin="round"/><path d="M552.68 141.32L555.03 145.79L550.33 145.79Z" fill="#eebcf8" stroke="#cd55ec" stroke-width="1.25" stroke-linejoin="round"/><path d="M552.68 144.62L555.03 149.09L550.33 149.09Z" fill="#eebcf8" stroke="#cd55ec" stroke-width="1.25" stroke-linejoin="round"/><path d="M552.68 152.52L555.03 156.99L550.33 156.99Z" fill="#eebcf8" stroke="#cd55ec" stroke-width="1.25" stroke-linejoin="round"/><path d="M552.68 154.32L555.03 158.79L550.33 158.79Z" fill="#eebcf8" stroke="#cd55ec" stroke-width="1.25" stroke-linejoin="round"/><path d="M552.68 171.62L555.03 176.09L550.33 176.09Z" fill="#eebcf8" stroke="#cd55ec" stroke-width="1.25" stroke-linejoin="round"/><path d="M583.83 151.82L586.18 156.29L581.48 156.29Z" fill="#eebcf8" stroke="#cd55ec" stroke-width="1.25" stroke-linejoin="round"/><path d="M583.83 154.62L586.18 159.09L581.48 159.09Z" fill="#eebcf8" stroke="#cd55ec" stroke-width="1.25" stroke-linejoin="round"/><path d="M583.83 162.42L586.18 166.89L581.48 166.89Z" fill="#eebcf8" stroke="#cd55ec" stroke-width="1.25" stroke-linejoin="round"/><circle cx="381.37" cy="41.20" r="2.25" fill="#14128f"/><circle cx="396.95" cy="63.90" r="2.25" fill="#14128f"/><circle cx="396.95" cy="73.20" r="2.25" fill="#14128f"/><circle cx="396.95" cy="87.80" r="2.25" fill="#14128f"/><circle cx="396.95" cy="92.50" r="2.25" fill="#14128f"/><circle cx="412.52" cy="116.10" r="2.25" fill="#14128f"/><circle cx="428.09" cy="117.00" r="2.25" fill="#14128f"/><circle cx="428.09" cy="120.80" r="2.25" fill="#14128f"/><circle cx="428.09" cy="122.90" r="2.25" fill="#14128f"/><circle cx="428.09" cy="129.00" r="2.25" fill="#14128f"/><circle cx="443.67" cy="127.90" r="2.25" fill="#14128f"/><circle cx="443.67" cy="139.70" r="2.25" fill="#14128f"/><circle cx="443.67" cy="142.70" r="2.25" fill="#14128f"/><circle cx="459.24" cy="145.80" r="2.25" fill="#14128f"/><circle cx="459.24" cy="154.60" r="2.25" fill="#14128f"/><circle cx="474.81" cy="154.90" r="2.25" fill="#14128f"/><circle cx="474.81" cy="165.20" r="2.25" fill="#14128f"/><circle cx="474.81" cy="166.60" r="2.25" fill="#14128f"/><circle cx="490.39" cy="170.20" r="2.25" fill="#14128f"/><circle cx="490.39" cy="173.00" r="2.25" fill="#14128f"/><circle cx="490.39" cy="176.10" r="2.25" fill="#14128f"/><circle cx="505.96" cy="175.50" r="2.25" fill="#14128f"/><circle cx="505.96" cy="177.40" r="2.25" fill="#14128f"/><circle cx="505.96" cy="184.90" r="2.25" fill="#14128f"/><circle cx="521.53" cy="183.50" r="2.25" fill="#14128f"/><circle cx="521.53" cy="185.70" r="2.25" fill="#14128f"/><circle cx="521.53" cy="188.20" r="2.25" fill="#14128f"/><circle cx="537.11" cy="188.20" r="2.25" fill="#14128f"/><circle cx="537.11" cy="194.80" r="2.25" fill="#14128f"/><circle cx="552.68" cy="198.10" r="2.25" fill="#14128f"/><rect x="410.37" y="100.85" width="4.3" height="4.3" fill="#14128f"/>
</g>
</svg>
</body></html>
